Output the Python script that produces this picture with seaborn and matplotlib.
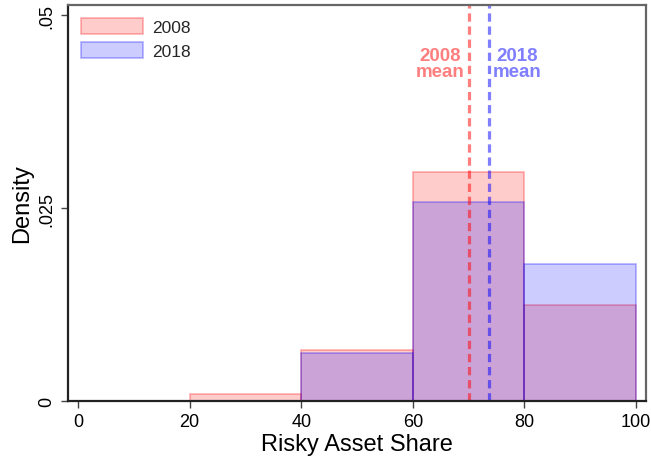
import matplotlib
matplotlib.use("Agg")
import matplotlib.pyplot as plt
import seaborn as sns
import pandas as pd
from matplotlib.patches import Patch

# ---- data ----
bin_edges = [20, 40, 60, 80, 100]
bin_mids = [30, 50, 70, 90]
density_2008 = [0.0009, 0.0066, 0.0297, 0.0124]
density_2018 = [0.0, 0.0062, 0.0258, 0.0178]
mean_2008 = 70.0
mean_2018 = 73.6
years = ["2008", "2018"]
x_ticks = [0, 20, 40, 60, 80, 100]
y_ticks = [0, 0.025, 0.05]
y_ticklabels = ["0", ".025", ".05"]

sns.set_theme(style="white")
plt.rcParams["font.family"] = ["Liberation Sans", "DejaVu Sans"]

fig = plt.figure(figsize=(6.51, 4.60), dpi=100)
ax = fig.add_axes([68 / 651, 1 - 402 / 460, (646 - 68) / 651, (402 - 6) / 460])

face = {"2008": (1, 0, 0, 0.2), "2018": (0, 0, 1, 0.2)}
edge = {"2008": (1, 0, 0, 0.3), "2018": (0, 0, 1, 0.3)}
line = {"2008": (1, 0, 0, 0.5), "2018": (0, 0, 1, 0.5)}

df = pd.DataFrame({
    "share": bin_mids * 2,
    "density": density_2008 + density_2018,
    "year": ["2008"] * 4 + ["2018"] * 4,
})

for yr in years:
    n_before = len(ax.patches)
    sns.histplot(data=df[df["year"] == yr], x="share", weights="density",
                 bins=bin_edges, stat="count", element="bars", ax=ax,
                 color="red", linewidth=1.2)
    for p in ax.patches[n_before:]:
        p.set_facecolor(face[yr])
        p.set_edgecolor(edge[yr])
        p.set_alpha(None)

dash = (0, (2.6, 1.5))
ax.axvline(mean_2008, color=line["2008"], lw=2.3, ls=dash)
ax.axvline(mean_2018, color=line["2018"], lw=2.3, ls=dash)

ax.text(mean_2008 - 0.7, 0.0437, "2008\nmean", color=line["2008"], ha="right",
        va="center", multialignment="center", fontsize=13.5, fontweight="bold",
        linespacing=0.92)
ax.text(mean_2018 + 0.8, 0.0437, "2018\nmean", color=line["2018"], ha="left",
        va="center", multialignment="center", fontsize=13.5, fontweight="bold",
        linespacing=0.92)

ax.set_xlim(-1.8, 101.8)
ax.set_ylim(0, 0.0513)
ax.set_xticks(x_ticks)
ax.set_xticklabels([str(t) for t in x_ticks])
ax.set_yticks(y_ticks)
ax.set_yticklabels(y_ticklabels, rotation=90, va="center")
ax.tick_params(axis="both", which="major", direction="out", length=5, width=1,
               color="#444444", labelsize=13, labelcolor="black", pad=4,
               bottom=True, left=True)
ax.set_xlabel("Risky Asset Share", fontsize=17, color="black", labelpad=2)
ax.set_ylabel("Density", fontsize=17, color="black", labelpad=4)

for s in ["left", "bottom"]:
    ax.spines[s].set_color("#222222")
    ax.spines[s].set_linewidth(1.6)
for s in ["top", "right"]:
    ax.spines[s].set_color("#666666")
    ax.spines[s].set_linewidth(1.6)

handles = [Patch(facecolor=face[y], edgecolor=edge[y], linewidth=1.2, label=y) for y in years]
ax.legend(handles=handles, loc="upper left", frameon=False, fontsize=12.5,
          handlelength=3.55, handleheight=1.05, handletextpad=0.55,
          labelspacing=0.42, borderaxespad=0.35, bbox_to_anchor=(0.0, 1.0))

fig.savefig("out.png", dpi=100)
